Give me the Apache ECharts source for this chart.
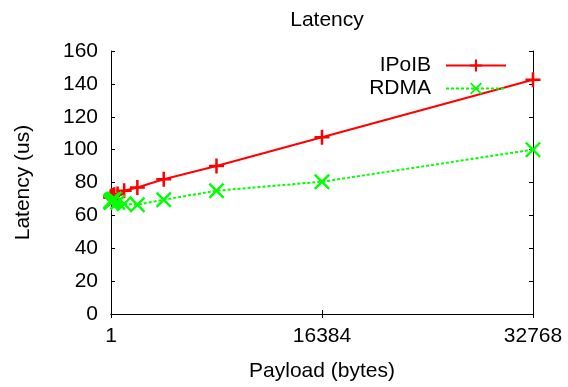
<!DOCTYPE html>
<html>
<head>
<meta charset="utf-8">
<script src="https://cdn.jsdelivr.net/npm/echarts@6/dist/echarts.min.js"></script>
<style>
  html, body { margin: 0; padding: 0; background: #fff; }
  #chart { width: 568px; height: 387px; }
</style>
</head>
<body>
<div id="chart"></div>
<script>
// Payload sizes in bytes and measured latency in microseconds
const payloadSizes = [1, 2, 4, 8, 16, 32, 64, 128, 256, 512, 1024, 2048, 4096, 8192, 16384, 32768];
const ipoibLatency = [71, 71, 71, 71, 71.5, 71.5, 72, 72, 72.5, 73, 75, 77, 82, 90, 107.5, 142.5];
const rdmaLatency  = [68, 68, 68, 68.5, 68.5, 69, 69, 69.5, 70, 68, 67, 66.5, 69.5, 75, 80.5, 100];
const xTickValues = [1, 16384, 32768];
const seriesNames = ['IPoIB', 'RDMA'];

const FONT = '"Liberation Sans", Arial, Helvetica, sans-serif';
const FS = 21;

// gnuplot-style point glyphs: a "+" and an "x"
const plusPath = 'path://M6.25,0H8.75V6.25H15V8.75H8.75V15H6.25V8.75H0V6.25H6.25Z';
const crossPath = 'path://M0,1.5L1.5,0L7,5.5L12.5,0L14,1.5L8.5,7L14,12.5L12.5,14L7,8.5L1.5,14L0,12.5L5.5,7Z';

const pairs = (ys) => payloadSizes.map((x, i) => [x, ys[i]]);

const axisLineStyle = { show: true, lineStyle: { color: '#000', width: 1 } };
const tickStyle = { color: '#000', width: 1 };

const chart = echarts.init(document.getElementById('chart'), null, { renderer: 'canvas' });
chart.setOption({
  animation: false,
  backgroundColor: '#fff',
  textStyle: { fontFamily: FONT },
  title: {
    text: 'Latency',
    left: 322, top: 5,
    textAlign: 'center',
    textStyle: { fontFamily: FONT, fontSize: FS, fontWeight: 'normal', color: '#000' }
  },
  legend: {
    orient: 'vertical',
    right: 61, top: 55,
    align: 'right',
    itemWidth: 60, itemHeight: 15,
    itemGap: 2,
    padding: 0,
    textStyle: { fontFamily: FONT, fontSize: FS, color: '#000', padding: [0, 10, 0, 0] },
    data: seriesNames
  },
  grid: { left: 111, right: 35, top: 51, bottom: 69, containLabel: false },
  xAxis: [{
    type: 'value', min: 1, max: 32768,
    name: 'Payload (bytes)', nameLocation: 'middle', nameGap: 47,
    nameTextStyle: { fontFamily: FONT, fontSize: FS, color: '#000' },
    axisLine: axisLineStyle,
    axisTick: { show: true, inside: true, length: 4, customValues: xTickValues, lineStyle: tickStyle },
    axisLabel: {
      customValues: xTickValues, fontFamily: FONT, fontSize: FS, color: '#000', margin: 12,
      formatter: (v) => String(Math.round(v))
    },
    splitLine: { show: false }
  }, {
    type: 'value', min: 1, max: 32768, position: 'top',
    axisLine: axisLineStyle,
    axisTick: { show: true, inside: true, length: 4, customValues: xTickValues, lineStyle: tickStyle },
    axisLabel: { show: false },
    splitLine: { show: false }
  }],
  yAxis: [{
    type: 'value', min: 0, max: 160, interval: 20,
    name: 'Latency (us)', nameLocation: 'middle', nameGap: 77,
    nameTextStyle: { fontFamily: FONT, fontSize: FS, color: '#000' },
    axisLine: axisLineStyle,
    axisTick: { show: true, inside: true, length: 4, lineStyle: tickStyle },
    axisLabel: { fontFamily: FONT, fontSize: FS, color: '#000', margin: 13 },
    splitLine: { show: false }
  }, {
    type: 'value', min: 0, max: 160, interval: 20, position: 'right',
    axisLine: axisLineStyle,
    axisTick: { show: true, inside: true, length: 4, lineStyle: tickStyle },
    axisLabel: { show: false },
    splitLine: { show: false }
  }],
  series: [{
    name: seriesNames[0],
    type: 'line',
    data: pairs(ipoibLatency),
    symbol: plusPath, symbolSize: 15,
    showAllSymbol: true,
    lineStyle: { color: '#ff0000', width: 2 },
    itemStyle: { color: '#ff0000' },
    z: 3
  }, {
    name: seriesNames[1],
    type: 'line',
    data: pairs(rdmaLatency),
    symbol: crossPath, symbolSize: 16,
    showAllSymbol: true,
    lineStyle: { color: '#00ff00', width: 2, type: [3, 2] },
    itemStyle: { color: '#00ff00' },
    z: 4
  }]
});
</script>
</body>
</html>
